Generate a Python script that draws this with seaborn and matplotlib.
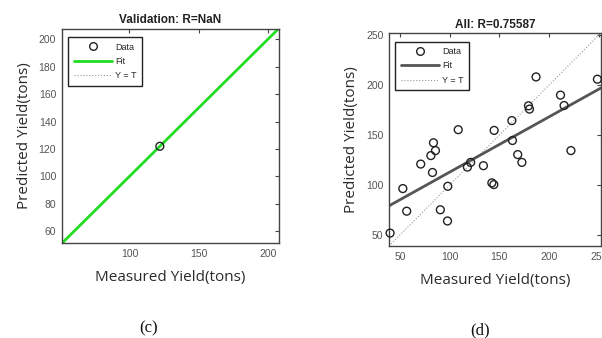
import numpy as np
import matplotlib
matplotlib.use("Agg")
import matplotlib.pyplot as plt
import seaborn as sns
from matplotlib.lines import Line2D

# Validation set (c): a single sample
val_measured = [122]
val_predicted = [122]
val_lims = [51, 208]
val_ticks_x = [100, 150, 200]
val_ticks_y = [60, 80, 100, 120, 140, 160, 180, 200]

# All samples (d)
all_measured = [40.2, 53.0, 56.9, 71.0, 81.2, 83.8, 85.8, 82.8, 90.7, 98.2,
                97.9, 108.7, 117.9, 121.2, 134.0, 142.5, 144.5, 144.8, 162.6, 163.2,
                168.5, 172.7, 179.3, 180.3, 186.9, 211.5, 215.1, 222.0, 248.6]
all_predicted = [52.0, 96.5, 73.9, 121.0, 129.5, 142.3, 134.5, 112.6, 75.3, 98.8,
                 64.1, 155.4, 118.0, 122.7, 119.4, 102.2, 100.5, 154.7, 164.5, 144.6,
                 130.5, 122.7, 179.3, 176.0, 208.2, 190.0, 179.6, 134.5, 205.9]
all_lims = [39, 252]
all_ticks = [50, 100, 150, 200, 250]

sns.set_theme(style="white")
plt.rcParams['font.family'] = ['Liberation Sans', 'DejaVu Sans']

fig = plt.figure(figsize=(6.02, 3.38), dpi=100)
ax1 = fig.add_axes([0.1025, 0.2796, 0.3605, 0.636])
ax2 = fig.add_axes([0.646, 0.272, 0.352, 0.630])

tick_col = '#555555'
lab_font = dict(family='Open Sans', size=11, color='#2a2a2a')


def style_axes(ax, lims, xt, yt, title):
    ax.set_xlim(lims)
    ax.set_ylim(lims)
    ax.set_xticks(xt)
    ax.set_yticks(yt)
    ax.tick_params(direction='in', length=3, width=0.8, top=True, right=True,
                   labelsize=7.5, labelcolor=tick_col, color='#444444', pad=4)
    for s in ax.spines.values():
        s.set_color('#444444')
        s.set_linewidth(1.0)
    ax.set_title(title, fontsize=8.5, fontweight='bold', color='#222222', pad=4)
    ax.set_xlabel('Measured Yield(tons)', fontdict=lab_font, labelpad=8)
    ax.set_ylabel('Predicted Yield(tons)', fontdict=lab_font, labelpad=5)
    ax.grid(False)


def add_legend(ax, fit_color):
    handles = [
        Line2D([], [], ls='none', marker='o', mfc='none', mec='#222222', ms=5.5, mew=1),
        Line2D([], [], color=fit_color, lw=2),
        Line2D([], [], color='#999999', lw=0.8, ls=':'),
    ]
    leg = ax.legend(handles, ['Data', 'Fit', 'Y = T'], loc='upper left',
                    bbox_to_anchor=(0.03, 0.96), fontsize=6.5, frameon=True,
                    fancybox=False, edgecolor='#222222', framealpha=1,
                    handlelength=4.2, handletextpad=0.4, labelspacing=0.6,
                    borderpad=0.6, borderaxespad=0)
    leg.get_frame().set_linewidth(1.0)


# (c) validation
ax1.plot(val_lims, val_lims, ls=':', color='#999999', lw=0.8)
ax1.plot(val_lims, val_lims, color='#22dd22', lw=2)
sns.scatterplot(x=val_measured, y=val_predicted, ax=ax1, marker='o', s=32,
                facecolors='none', edgecolor='#222222', linewidth=1, zorder=5)
style_axes(ax1, val_lims, val_ticks_x, val_ticks_y, 'Validation: R=NaN')
add_legend(ax1, '#22dd22')

# (d) all
ax2.set_xlim(all_lims)
ax2.plot(all_lims, all_lims, ls=':', color='#999999', lw=0.8)
sns.regplot(x=np.array(all_measured), y=np.array(all_predicted), ax=ax2,
            scatter=False, ci=None, truncate=False,
            line_kws=dict(color='#555555', lw=2))
sns.scatterplot(x=all_measured, y=all_predicted, ax=ax2, marker='o', s=32,
                facecolors='none', edgecolor='#222222', linewidth=1, zorder=5,
                clip_on=False)
style_axes(ax2, all_lims, all_ticks, all_ticks, 'All: R=0.75587')
add_legend(ax2, '#555555')

fig.text(0.246, 1 - 328 / 338, '(c)', family='Liberation Serif', fontsize=12,
         ha='center', va='center', color='#111111')
fig.text(0.797, 1 - 330 / 338, '(d)', family='Liberation Serif', fontsize=12,
         ha='center', va='center', color='#111111')

fig.savefig('out.png', dpi=100)
